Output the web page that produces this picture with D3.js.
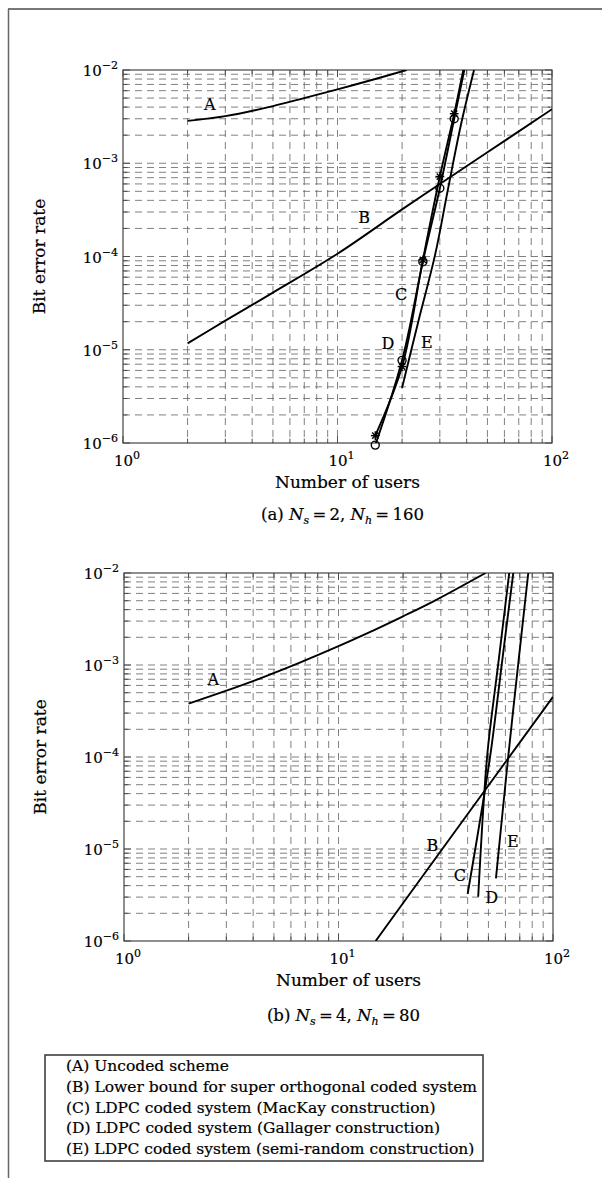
<!DOCTYPE html>
<html><head><meta charset="utf-8">
<script src="https://cdn.jsdelivr.net/npm/d3@7"></script>
<style>
body{margin:0;background:#fff}
svg{display:block}
text{font-family:"DejaVu Serif",serif;fill:#000;stroke:#000;stroke-width:0.2}
</style>
</head><body>
<svg id="chart" width="602" height="1178"></svg>
<script>
// ---------------- data ----------------
const xMajorTicks = [1, 10, 100];
const xTickExponents = ["0", "1", "2"];
const yMajorTicks = [1e-6, 1e-5, 1e-4, 1e-3, 1e-2];
const yTickExponents = ["\u22126", "\u22125", "\u22124", "\u22123", "\u22122"];
const minorMultipliers = [2, 3, 4, 5, 6, 7, 8, 9];

// panel (a)  Ns=2, Nh=160
const aUncoded  = [[2,2.85e-3],[3,3.2e-3],[5,4.1e-3],[7,5.0e-3],[10,6.2e-3],[15,8.0e-3],[21,1.0e-2]];
const aBound    = [[2,1.17e-5],[3,2.05e-5],[5,4.1e-5],[10,1.07e-4],[20,3.2e-4],[30,6.0e-4],[50,1.31e-3],[100,3.8e-3]];
const aMacKay   = [[15,1.2e-6],[20,6.6e-6],[25,9.2e-5],[30,7.2e-4],[35,3.4e-3],[38.6,1.0e-2]];
const aGallager = [[15,0.95e-6],[20,7.7e-6],[25,8.8e-5],[30,5.4e-4],[35,3.0e-3],[39,1.0e-2]];
const aSemiRand = [[20,3.9e-6],[23.8,2.0e-5],[28.5,1.04e-4],[32.7,5.2e-4],[37.6,2.57e-3],[43.3,1.0e-2]];
const aMarkerUsers = [15, 20, 25, 30, 35];
const aLabelNames = ["A", "B", "C", "D", "E"];
const aLabelUsers = [2.54, 13.3, 19.8, 17.2, 26.1];
const aLabelBER   = [4.3e-3, 2.59e-4, 3.87e-5, 1.18e-5, 1.21e-5];

// panel (b)  Ns=4, Nh=80
const bUncoded  = [[2,3.8e-4],[3,5.26e-4],[4.5,7.43e-4],[6.6,1.06e-3],[10,1.6e-3],[13.5,2.19e-3],[20,3.38e-3],[28,4.98e-3],[48.5,1.0e-2]];
const bBound    = [[14.9,1.0e-6],[30,9.5e-6],[50,4.9e-5],[100,4.5e-4]];
const bMacKay   = [[40,3.24e-6],[47.8,3.87e-5],[51.8,1.35e-4],[58.1,1.16e-3],[65.3,1.0e-2]];
const bGallager = [[44.8,3.03e-6],[47.8,4.0e-5],[49.9,1.35e-4],[55.9,1.16e-3],[62.5,1.0e-2]];
const bSemiRand = [[54.2,4.8e-6],[61.5,8.9e-5],[67.7,7.2e-4],[76.7,1.0e-2]];
const bLabelNames = ["A", "B", "C", "D", "E"];
const bLabelUsers = [2.61, 27.4, 36.8, 51.8, 64.9];
const bLabelBER   = [6.9e-4, 1.1e-5, 5.2e-6, 3.0e-6, 1.22e-5];

const legendLines = [
  "(A) Uncoded scheme",
  "(B) Lower bound for super orthogonal coded system",
  "(C) LDPC coded system (MacKay construction)",
  "(D) LDPC coded system (Gallager construction)",
  "(E) LDPC coded system (semi-random construction)"
];
const xAxisTitle = "Number of users";
const yAxisTitle = "Bit error rate";

// ---------------- drawing ----------------
const svg = d3.select("#chart");

// page border (scan frame)
svg.append("line").attr("x1", 8).attr("x2", 602).attr("y1", 9).attr("y2", 9)
  .attr("stroke", "#777").attr("stroke-width", 2);
svg.append("line").attr("x1", 8.5).attr("x2", 8.5).attr("y1", 9).attr("y2", 1178)
  .attr("stroke", "#666").attr("stroke-width", 1.5);

const minorX = [];
[1, 10].forEach(d => minorMultipliers.forEach(m => minorX.push(d * m)));
const minorY = [];
[1e-6, 1e-5, 1e-4, 1e-3].forEach(d => minorMultipliers.forEach(m => minorY.push(d * m)));

function drawPanel(cfg) {
  const x = d3.scaleLog().domain([1, 100]).range([cfg.x0, cfg.x1]);
  const y = d3.scaleLog().domain([1e-6, 1e-2]).range([cfg.y1, cfg.y0]);
  const g = svg.append("g");
  const clipId = "clip" + cfg.id;
  svg.append("clipPath").attr("id", clipId).append("rect")
    .attr("x", cfg.x0).attr("y", cfg.y0).attr("width", cfg.x1 - cfg.x0).attr("height", cfg.y1 - cfg.y0);

  // grid: all interior major + minor values
  const gridX = minorX.concat([10]);
  const gridY = minorY.concat([1e-5, 1e-4, 1e-3]);
  g.append("g").selectAll("line").data(gridX).join("line")
    .attr("x1", d => x(d)).attr("x2", d => x(d)).attr("y1", cfg.y0).attr("y2", cfg.y1)
    .attr("stroke", "#6a6a6a").attr("stroke-width", 0.85).attr("stroke-dasharray", "7,5");
  g.append("g").selectAll("line").data(gridY).join("line")
    .attr("x1", cfg.x0).attr("x2", cfg.x1).attr("y1", d => y(d)).attr("y2", d => y(d))
    .attr("stroke", "#6a6a6a").attr("stroke-width", 0.85).attr("stroke-dasharray", "7,5");

  // ticks (inward, all four sides)
  const tickG = g.append("g").attr("stroke", "#444").attr("stroke-width", 0.9);
  const allX = minorX.concat(xMajorTicks);
  const allY = minorY.concat(yMajorTicks);
  const len = d => (xMajorTicks.includes(d) || yMajorTicks.includes(d)) ? 7 : 4.5;
  allX.forEach(d => {
    tickG.append("line").attr("x1", x(d)).attr("x2", x(d)).attr("y1", cfg.y1).attr("y2", cfg.y1 - len(d));
    tickG.append("line").attr("x1", x(d)).attr("x2", x(d)).attr("y1", cfg.y0).attr("y2", cfg.y0 + len(d));
  });
  allY.forEach(d => {
    tickG.append("line").attr("y1", y(d)).attr("y2", y(d)).attr("x1", cfg.x0).attr("x2", cfg.x0 + len(d));
    tickG.append("line").attr("y1", y(d)).attr("y2", y(d)).attr("x1", cfg.x1).attr("x2", cfg.x1 - len(d));
  });

  // frame
  g.append("rect").attr("x", cfg.x0).attr("y", cfg.y0).attr("width", cfg.x1 - cfg.x0).attr("height", cfg.y1 - cfg.y0)
    .attr("fill", "none").attr("stroke", "#444").attr("stroke-width", 1.2);

  // tick labels
  xMajorTicks.forEach((d, i) => {
    const t = g.append("text").attr("x", x(d) + 4).attr("y", cfg.y1 + 23)
      .attr("text-anchor", "middle").attr("font-size", 15);
    t.append("tspan").text("10");
    t.append("tspan").attr("dy", -7).attr("font-size", 11).text(xTickExponents[i]);
  });
  yMajorTicks.forEach((d, i) => {
    const t = g.append("text").attr("x", cfg.x0 - 5).attr("y", y(d) + 6)
      .attr("text-anchor", "end").attr("font-size", 15);
    t.append("tspan").text("10");
    t.append("tspan").attr("dy", -7).attr("font-size", 11).text(yTickExponents[i]);
  });

  // axis titles
  g.append("text").attr("x", (cfg.x0 + cfg.x1) / 2 + 10).attr("y", cfg.y1 + 45)
    .attr("text-anchor", "middle").attr("font-size", 17).text(xAxisTitle);
  g.append("text").attr("transform", `translate(${cfg.x0 - 78},${(cfg.y0 + cfg.y1) / 2}) rotate(-90)`)
    .attr("text-anchor", "middle").attr("font-size", 17).text(yAxisTitle);

  // caption
  const cap = g.append("text").attr("x", (cfg.x0 + cfg.x1) / 2 + 5).attr("y", cfg.y1 + cfg.capDy)
    .attr("text-anchor", "middle").attr("font-size", 16.5);
  cap.append("tspan").text(cfg.capTag + " ");
  cap.append("tspan").attr("font-style", "italic").text("N");
  cap.append("tspan").attr("font-style", "italic").attr("font-size", 11).attr("dy", 4).text("s");
  cap.append("tspan").attr("dy", -4).text("\u2009=\u2009" + cfg.ns + ",  ");
  cap.append("tspan").attr("font-style", "italic").text("N");
  cap.append("tspan").attr("font-style", "italic").attr("font-size", 11).attr("dy", 4).text("h");
  cap.append("tspan").attr("dy", -4).text("\u2009=\u2009" + cfg.nh);

  // curves
  const line = d3.line().x(d => x(d[0])).y(d => y(d[1])).curve(d3.curveCatmullRom.alpha(0.5));
  const cg = g.append("g").attr("clip-path", `url(#${clipId})`);
  cfg.series.forEach(s => {
    cg.append("path").datum(s).attr("d", line)
      .attr("fill", "none").attr("stroke", "#000").attr("stroke-width", 1.9);
  });

  // markers
  if (cfg.circles) {
    g.append("g").selectAll("circle").data(cfg.circles).join("circle")
      .attr("cx", d => x(d[0])).attr("cy", d => y(d[1])).attr("r", 4)
      .attr("fill", "none").attr("stroke", "#000").attr("stroke-width", 1.4);
  }
  if (cfg.stars) {
    const r = 4.4;
    const sg = g.append("g").attr("stroke", "#000").attr("stroke-width", 1.4);
    cfg.stars.forEach(d => {
      const cx = x(d[0]), cy = y(d[1]);
      [[0, 1], [1, 0], [0.707, 0.707], [0.707, -0.707]].forEach(([dx, dy]) => {
        sg.append("line").attr("x1", cx - dx * r).attr("y1", cy - dy * r)
          .attr("x2", cx + dx * r).attr("y2", cy + dy * r);
      });
    });
  }

  // curve labels
  cfg.labelNames.forEach((n, i) => {
    g.append("text").attr("x", x(cfg.labelUsers[i])).attr("y", y(cfg.labelBER[i]))
      .attr("text-anchor", "middle").attr("dominant-baseline", "central")
      .attr("font-size", 16).text(n);
  });
}

const markerOf = (series) => series.filter(d => aMarkerUsers.includes(d[0]));

drawPanel({
  id: "a", x0: 123, x1: 552, y0: 70, y1: 443, capDy: 77, capTag: "(a)", ns: 2, nh: 160,
  series: [aUncoded, aBound, aMacKay, aGallager, aSemiRand],
  circles: markerOf(aGallager), stars: markerOf(aMacKay),
  labelNames: aLabelNames, labelUsers: aLabelUsers, labelBER: aLabelBER
});
drawPanel({
  id: "b", x0: 124, x1: 553, y0: 573, y1: 941, capDy: 80, capTag: "(b)", ns: 4, nh: 80,
  series: [bUncoded, bBound, bMacKay, bGallager, bSemiRand],
  labelNames: bLabelNames, labelUsers: bLabelUsers, labelBER: bLabelBER
});

// legend
const lg = svg.append("g");
lg.append("rect").attr("x", 45).attr("y", 1055).attr("width", 438).attr("height", 106)
  .attr("fill", "none").attr("stroke", "#333").attr("stroke-width", 1.5);
lg.selectAll("text").data(legendLines).join("text")
  .attr("x", 66).attr("y", (d, i) => 1071 + i * 20.8)
  .attr("font-size", 15.5).text(d => d);
</script>
</body></html>
